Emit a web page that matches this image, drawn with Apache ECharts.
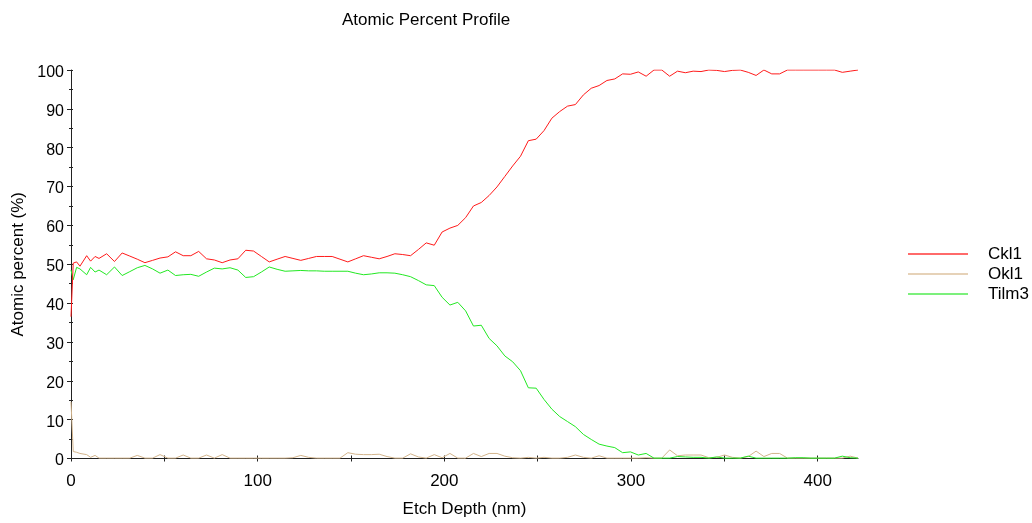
<!DOCTYPE html>
<html>
<head>
<meta charset="utf-8">
<script src="https://cdn.jsdelivr.net/npm/echarts@6/dist/echarts.min.js"></script>
<style>html,body{margin:0;padding:0;background:#fff;}#c{width:1032px;height:523px;}</style>
</head>
<body>
<div id="c"></div>
<script>
const depth = [0, 1.2, 3.0, 4.8, 8.4, 10.5, 12.9, 15.0, 19.1, 23.3, 27.4, 31.5, 35.5, 39.6, 43.7, 47.7, 51.9, 56.0, 60.1, 64.2,
  68.4, 72.6, 76.8, 81.0, 85.2, 89.4, 93.6, 97.8, 102.0, 106.2, 110.4, 114.7, 118.9, 123.1, 127.3, 131.5, 135.7, 139.9, 144.1, 148.3,
  152.5, 156.7, 160.9, 165.1, 169.3, 173.5, 177.7, 181.9, 186.1, 190.3, 194.6, 198.8, 203.0, 207.2, 211.4, 215.6, 219.8, 224.0, 228.2, 232.4,
  236.6, 240.8, 245.0, 249.2, 253.4, 257.6, 261.8, 266.0, 270.2, 274.5, 278.7, 282.9, 287.1, 291.3, 295.5, 299.7, 303.9, 308.1, 312.3, 316.5,
  320.7, 324.9, 329.1, 333.3, 337.5, 341.7, 345.9, 350.1, 354.3, 358.5, 362.8, 367.0, 371.2, 375.4, 379.6, 383.8, 388.0, 392.2, 396.4, 400.6,
  404.8, 409.0, 413.2, 417.4, 421.6];
const ckl1 = [36.5, 50.3, 50.6, 49.5, 52.2, 50.8, 52.0, 51.5, 52.7, 50.7, 52.9, 52.1, 51.3, 50.4, 51.0, 51.6, 51.9, 53.2, 52.2, 52.2,
  53.3, 51.4, 51.1, 50.4, 51.1, 51.4, 53.6, 53.4, 52.0, 50.6, 51.3, 52.0, 51.5, 51.0, 51.5, 52.0, 52.0, 52.0, 51.3, 50.6,
  51.4, 52.2, 51.8, 51.4, 52.0, 52.7, 52.5, 52.2, 53.8, 55.5, 54.9, 58.3, 59.3, 60.0, 62.0, 65.0, 65.9, 67.7, 69.9, 72.6,
  75.3, 77.8, 81.8, 82.2, 84.4, 87.6, 89.3, 90.7, 91.1, 93.6, 95.3, 96.0, 97.3, 97.7, 99.0, 98.9, 99.5, 98.4, 100, 100,
  98.4, 99.7, 99.3, 99.7, 99.6, 100, 99.9, 99.6, 99.9, 100, 99.4, 98.6, 100, 99.0, 99.0, 100, 100, 100, 100, 100,
  100, 100, 99.4, 99.7, 100];
const okl1 = [14.6, 1.8, 1.6, 1.3, 1.0, 0.3, 0.8, 0.1, 0.1, 0.1, 0.1, 0.1, 0.8, 0.1, 0.1, 1.0, 0.1, 0.1, 0.9, 0.1,
  0.1, 0.9, 0.1, 1.0, 0.1, 0.1, 0.1, 0.1, 0.1, 0.1, 0.1, 0.1, 0.2, 0.8, 0.3, 0.1, 0.1, 0.1, 0.1, 1.5,
  1.1, 1.0, 1.0, 1.1, 0.5, 0.1, 0.1, 1.2, 0.4, 0.1, 1.0, 0.2, 1.3, 0.1, 0.1, 1.3, 0.5, 1.3, 1.3, 0.6,
  0.2, 0.1, 0.3, 0.1, 0.3, 0.1, 0.1, 0.3, 0.9, 0.3, 0.1, 0.7, 0.1, 0.1, 0.1, 0.1, 0.1, 0.2, 0.1, 0.1,
  2.2, 0.7, 0.9, 0.9, 0.9, 0.2, 0.3, 0.9, 0.3, 0.1, 0.5, 1.9, 0.5, 1.3, 1.3, 0.1, 0.1, 0.1, 0.1, 0.1,
  0.1, 0.1, 0.1, 0.6, 0.1];
const tilm3 = [48.5, 46.0, 49.2, 48.8, 47.3, 49.2, 48.0, 48.5, 47.3, 49.3, 47.1, 48.1, 49.1, 49.7, 48.8, 47.7, 48.5, 47.1, 47.3, 47.4,
  46.9, 48.0, 49.0, 48.8, 49.1, 48.5, 46.6, 46.8, 48.0, 49.3, 48.7, 48.2, 48.3, 48.4, 48.3, 48.3, 48.2, 48.2, 48.2, 48.2,
  47.7, 47.3, 47.5, 47.8, 47.8, 47.7, 47.3, 46.8, 45.8, 44.7, 44.5, 41.5, 39.5, 40.2, 38.0, 34.1, 34.3, 30.9, 29.0, 26.4,
  24.9, 22.6, 18.2, 18.1, 15.2, 12.7, 10.8, 9.5, 8.2, 6.2, 4.9, 3.7, 3.2, 2.8, 1.5, 1.7, 0.9, 1.3, 0.1, 0.1,
  0.1, 0.5, 0.4, 0.3, 0.3, 0.1, 0.4, 0.1, 0.1, 0.1, 0.6, 0.1, 0.1, 0.1, 0.1, 0.1, 0.2, 0.2, 0.1, 0.1,
  0.1, 0.1, 0.6, 0.2, 0.1];
const seriesNames = ['Ckl1', 'Okl1', 'Tilm3'];
const xTicks = [0, 50, 100, 150, 200, 250, 300, 350, 400];
const xLabels = [0, 100, 200, 300, 400];
const yTicks = [0, 10, 20, 30, 40, 50, 60, 70, 80, 90, 100];
const yMinor = [5, 15, 25, 35, 45, 55, 65, 75, 85, 95];

const FONT = "'Liberation Sans', Arial, sans-serif";
const colors = ['#ff1a1a', '#d2b48c', '#22e822'];
const legendColors = ['#ff6a6a', '#e6d2b8', '#7cf07c'];
const zip = v => depth.map((d, i) => [d, v[i]]);
const XMAX = 421.6;

const chart = echarts.init(document.getElementById('c'), null, {renderer: 'canvas'});
const axisLine = {show: true, lineStyle: {color: '#222', width: 1}};
chart.setOption({
  animation: false,
  backgroundColor: '#fff',
  color: colors,
  title: {
    text: 'Atomic Percent Profile', left: 342, top: 12, padding: 0,
    textStyle: {fontFamily: FONT, fontSize: 17, fontWeight: 'normal', color: '#000'}
  },
  legend: {
    orient: 'vertical', left: 908, top: 244, itemWidth: 60, itemHeight: 2, itemGap: 0, padding: 0,
    icon: 'rect',
    textStyle: {fontFamily: FONT, fontSize: 17, color: '#000', lineHeight: 20, padding: [0, 0, 0, 15]},
    data: seriesNames.map((n, i) => ({name: n, itemStyle: {color: legendColors[i]}}))
  },
  grid: {left: 71, right: 174, top: 70, bottom: 64.5, containLabel: false},
  xAxis: [{
    type: 'value', min: 0, max: XMAX,
    name: 'Etch Depth (nm)', nameLocation: 'middle', nameGap: 42,
    nameTextStyle: {fontFamily: FONT, fontSize: 17, color: '#000'},
    axisLine: axisLine,
    axisTick: {show: true, length: 3, customValues: xTicks, lineStyle: {color: '#222'}},
    axisLabel: {customValues: xLabels, fontFamily: FONT, fontSize: 17, color: '#000', margin: 14},
    splitLine: {show: false}
  }, {
    type: 'value', min: 0, max: XMAX, position: 'bottom', gridIndex: 0,
    axisLine: {show: false},
    axisTick: {show: true, inside: true, length: 3, customValues: xTicks, lineStyle: {color: '#222'}},
    axisLabel: {show: false}, splitLine: {show: false}
  }],
  yAxis: [{
    type: 'value', min: 0, max: 100, interval: 10,
    name: 'Atomic percent (%)', nameLocation: 'middle', nameGap: 44,
    nameTextStyle: {fontFamily: FONT, fontSize: 17, color: '#000'},
    axisLine: axisLine,
    axisTick: {show: true, length: 4, customValues: yTicks, lineStyle: {color: '#222'}},
    axisLabel: {
      customValues: yTicks, color: '#000', margin: 7,
      formatter: v => '{a|' + v + '}',
      rich: {a: {fontFamily: FONT, fontSize: 16, color: '#000', padding: [5, 0, 0, 0]}}
    },
    splitLine: {show: false}
  }, {
    type: 'value', min: 0, max: 100, position: 'left',
    axisLine: {show: false},
    axisTick: {show: true, length: 2, customValues: yMinor, lineStyle: {color: '#222'}},
    axisLabel: {show: false}, splitLine: {show: false}
  }, {
    type: 'value', min: 0, max: 100, position: 'left',
    axisLine: {show: false},
    axisTick: {show: true, inside: true, length: 2, customValues: yTicks.concat(yMinor), lineStyle: {color: '#222'}},
    axisLabel: {show: false}, splitLine: {show: false}
  }],
  series: [
    {name: 'Ckl1', type: 'line', data: zip(ckl1), showSymbol: false, symbol: 'none', lineStyle: {width: 1, color: colors[0]}, z: 4},
    {name: 'Okl1', type: 'line', data: zip(okl1), showSymbol: false, symbol: 'none', lineStyle: {width: 1, color: colors[1]}, z: 2},
    {name: 'Tilm3', type: 'line', data: zip(tilm3), showSymbol: false, symbol: 'none', lineStyle: {width: 1, color: colors[2]}, z: 3}
  ]
});
</script>
</body>
</html>
